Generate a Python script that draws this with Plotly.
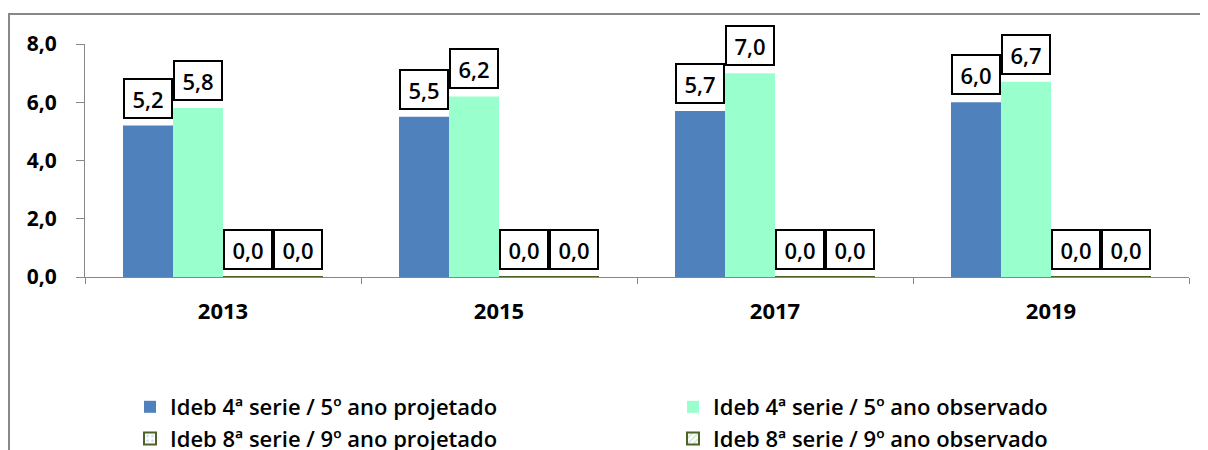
import plotly.graph_objects as go

years = ["2013", "2015", "2017", "2019"]
proj_5 = [5.2, 5.5, 5.7, 6.0]
obs_5 = [5.8, 6.2, 7.0, 6.7]
proj_9 = [0.0, 0.0, 0.0, 0.0]
obs_9 = [0.0, 0.0, 0.0, 0.0]
names = [
    "Ideb 4ª serie / 5º ano projetado",
    "Ideb 4ª serie / 5º ano observado",
    "Ideb 8ª serie / 9º ano projetado",
    "Ideb 8ª serie / 9º ano observado",
]
y_ticks = [0, 2, 4, 6, 8]

OFF = 8  # page body margin of the html
W, H = 1208 - OFF, 450 - OFF
ML, MT = 85 - OFF, 44 - OFF
MR = W - (1189 - OFF)
MB = H - (277 - OFF)
FONT = "Open Sans"

fig = go.Figure()
fig.add_bar(x=years, y=proj_5, name=names[0], legend="legend",
            marker=dict(color="#4F81BD", line=dict(width=0)))
fig.add_bar(x=years, y=obs_5, name=names[1], legend="legend2",
            marker=dict(color="#99FFCC", line=dict(width=0)))
fig.add_bar(x=years, y=proj_9, name=names[2], legend="legend",
            marker=dict(color="white", line=dict(color="#4F6228", width=2),
                        pattern=dict(shape=".", fgcolor="#8DB3E2", size=6, solidity=0.2)))
fig.add_bar(x=years, y=obs_9, name=names[3], legend="legend2",
            marker=dict(color="white", line=dict(color="#4F6228", width=2),
                        pattern=dict(shape="/", fgcolor="#9BD7A0", size=5, solidity=0.4)))

plot_w = W - ML - MR
plot_h = H - MT - MB
cat_w = plot_w / len(years)
gap = 0.2754
bar_w = cat_w * (1 - gap) / 4

series = [proj_5, obs_5, proj_9, obs_9]
for si, vals in enumerate(series):
    for ci, v in enumerate(vals):
        fig.add_annotation(
            x=ci, y=v, xref="x", yref="y",
            text=f"{v:.1f}".replace(".", ","),
            showarrow=False, xanchor="center", yanchor="bottom",
            xshift=(si - 1.5) * bar_w, yshift=7,
            width=bar_w - 4, height=37,
            bgcolor="white", bordercolor="black", borderwidth=2, borderpad=0,
            font=dict(family=FONT, size=22, color="black", weight=600),
        )

# outer frame (page pixel -> paper)
px2x = lambda p: (p - OFF - ML) / plot_w
py2y = lambda p: (H - MB - (p - OFF)) / plot_h
fig.add_shape(type="rect", xref="paper", yref="paper",
              x0=px2x(9), x1=px2x(1230), y0=py2y(14), y1=py2y(480),
              line=dict(color="#888888", width=2), fillcolor="rgba(0,0,0,0)", layer="below")

leg_common = dict(orientation="v", xref="container", yref="container",
                  xanchor="left", yanchor="top", bgcolor="rgba(0,0,0,0)",
                  font=dict(family=FONT, size=22, color="black", weight=600),
                  traceorder="normal", tracegroupgap=0, itemwidth=30)

fig.update_layout(
    width=W, height=H,
    margin=dict(l=ML, r=MR, t=MT, b=MB, autoexpand=False),
    paper_bgcolor="white", plot_bgcolor="white",
    barmode="group", bargap=gap, bargroupgap=0,
    separators=",.",
    showlegend=True,
    legend=dict(x=(130 - OFF) / W, y=1 - (386 - OFF) / H, **leg_common),
    legend2=dict(x=(673 - OFF) / W, y=1 - (386 - OFF) / H, **leg_common),
    xaxis=dict(type="category", range=[-0.5, len(years) - 0.5],
               showline=True, linecolor="#888888", linewidth=1,
               ticks="outside", tickson="boundaries", ticklen=6, tickcolor="#888888",
               tickfont=dict(family=FONT, size=22, color="black", weight="bold"),
               showgrid=False, zeroline=False, automargin=False, tickangle=0,
               ticklabelstandoff=15),
    yaxis=dict(range=[0, 8], tickvals=y_ticks, tickformat=".1f",
               showline=True, linecolor="#888888", linewidth=1,
               ticks="outside", ticklen=8, tickcolor="#888888",
               tickfont=dict(family=FONT, size=21, color="black", weight="bold"),
               showgrid=False, zeroline=False, ticklabelstandoff=15, automargin=False),
)

fig.write_html("out.html")
